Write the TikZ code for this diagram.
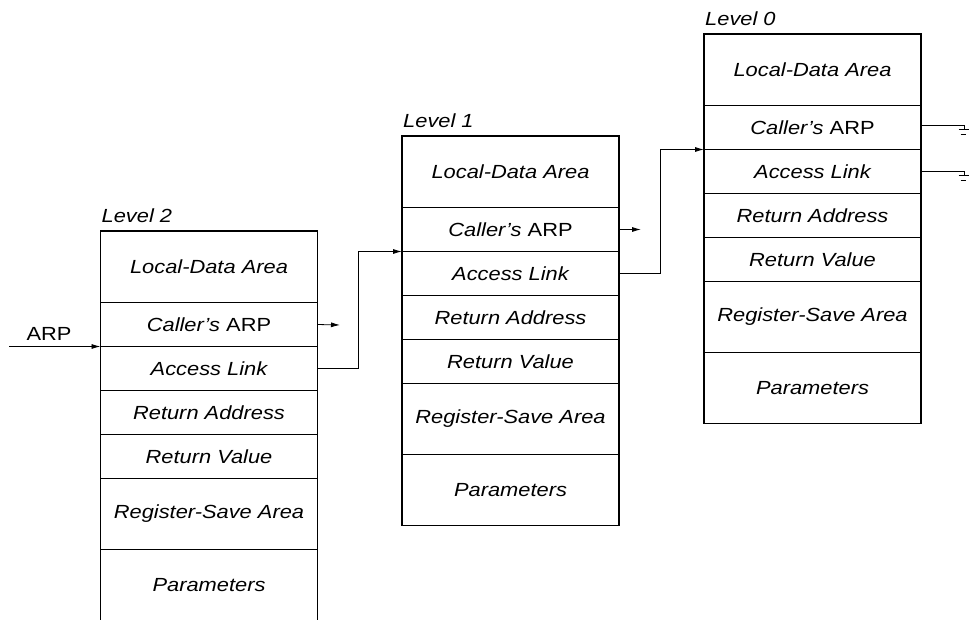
\documentclass[tikz,border=0pt]{standalone}
\usepackage{fontspec}
\setmainfont{Liberation Sans}[FakeStretch=1.15]
\usetikzlibrary{arrows.meta,calc}
\begin{document}
\begin{tikzpicture}[x=1pt,y=-1pt,
  cell/.style={draw, line width=1.1pt, minimum width=217pt, inner sep=0pt, outer sep=0pt,
    anchor=north west, font=\fontsize{19}{22}\selectfont\itshape},
  smallcell/.style={cell, minimum height=44pt},
  bigcell/.style={cell, minimum height=71.5pt},
  midcell/.style={cell, minimum height=71pt},
  title/.style={anchor=base west, inner sep=0pt, font=\fontsize{19}{22}\selectfont\itshape},
  boxside/.style={line width=1.1pt},
  link/.style={line width=0.8pt, -{Latex[length=9pt,width=5pt]}},
  wire/.style={line width=0.8pt}
]
\useasboundingbox (0,0) rectangle (971,619);

% ---------- Level 2 ----------
\node[bigcell] (ld2) at (100.5,231) {Local-Data Area};
\node[smallcell] (ca2) at (ld2.south west) {Caller’s \textup{ARP}};
\node[smallcell] (al2) at (ca2.south west) {Access Link};
\node[smallcell] (ra2) at (al2.south west) {Return Address};
\node[smallcell] (rv2) at (ra2.south west) {Return Value};
\node[midcell] (rs2) at (rv2.south west) {Register-Save Area};
\node[midcell, draw=none] (pa2) at (rs2.south west) {Parameters};
\draw[boxside] (pa2.north west) -- (pa2.south west) (pa2.north east) -- (pa2.south east);
\node[title] (t2) at ([xshift=1pt,yshift=8.5pt]ld2.north west) {Level 2};

% ---------- Level 1 ----------
\node[bigcell] (ld1) at (402,136) {Local-Data Area};
\node[smallcell] (ca1) at (ld1.south west) {Caller’s \textup{ARP}};
\node[smallcell] (al1) at (ca1.south west) {Access Link};
\node[smallcell] (ra1) at (al1.south west) {Return Address};
\node[smallcell] (rv1) at (ra1.south west) {Return Value};
\node[midcell] (rs1) at (rv1.south west) {Register-Save Area};
\node[midcell] (pa1) at (rs1.south west) {Parameters};
\node[title] (t1) at ([xshift=1pt,yshift=9pt]ld1.north west) {Level 1};

% ---------- Level 0 ----------
\node[bigcell] (ld0) at (704,34) {Local-Data Area};
\node[smallcell] (ca0) at (ld0.south west) {Caller’s \textup{ARP}};
\node[smallcell] (al0) at (ca0.south west) {Access Link};
\node[smallcell] (ra0) at (al0.south west) {Return Address};
\node[smallcell] (rv0) at (ra0.south west) {Return Value};
\node[midcell] (rs0) at (rv0.south west) {Register-Save Area};
\node[midcell] (pa0) at (rs0.south west) {Parameters};
\node[title] (t0) at ([xshift=1pt,yshift=9pt]ld0.north west) {Level 0};

% ---------- ARP entry ----------
\coordinate (arpin) at (9,346.5);
\draw[link] (arpin) -- (ca2.south west);
\node[font=\fontsize{19}{22}\selectfont, anchor=base, inner sep=0pt] (arplbl) at (49,340) {ARP};

% ---------- Caller's ARP stubs ----------
\coordinate (cstub2) at (340,325);
\draw[link] (ca2.east) -- (cstub2);
\coordinate (cstub1) at (641,229.5);
\draw[link] (ca1.east) -- (cstub1);

% ---------- Access links ----------
\draw[link] (al2.east) -- ++(40.5,0) |- (ca1.south west);
\draw[link] (al1.east) -- ++(41,0) |- (ca0.south west);

% ---------- Level 0 grounds ----------
\coordinate (g1) at (964,129.5);
\draw[wire] ([yshift=2.5pt]ca0.east) -| (g1);
\draw[wire] ($(g1)+(-5.5,0)$) -- ($(g1)+(5,0)$);
\draw[wire] ($(g1)+(-3.5,5)$) -- ($(g1)+(2,5)$);

\coordinate (g2) at (964,175.5);
\draw[wire] (al0.east) -| (g2);
\draw[wire] ($(g2)+(-5.5,0)$) -- ($(g2)+(5,0)$);
\draw[wire] ($(g2)+(-3.5,5)$) -- ($(g2)+(2,5)$);
\end{tikzpicture}
\end{document}
